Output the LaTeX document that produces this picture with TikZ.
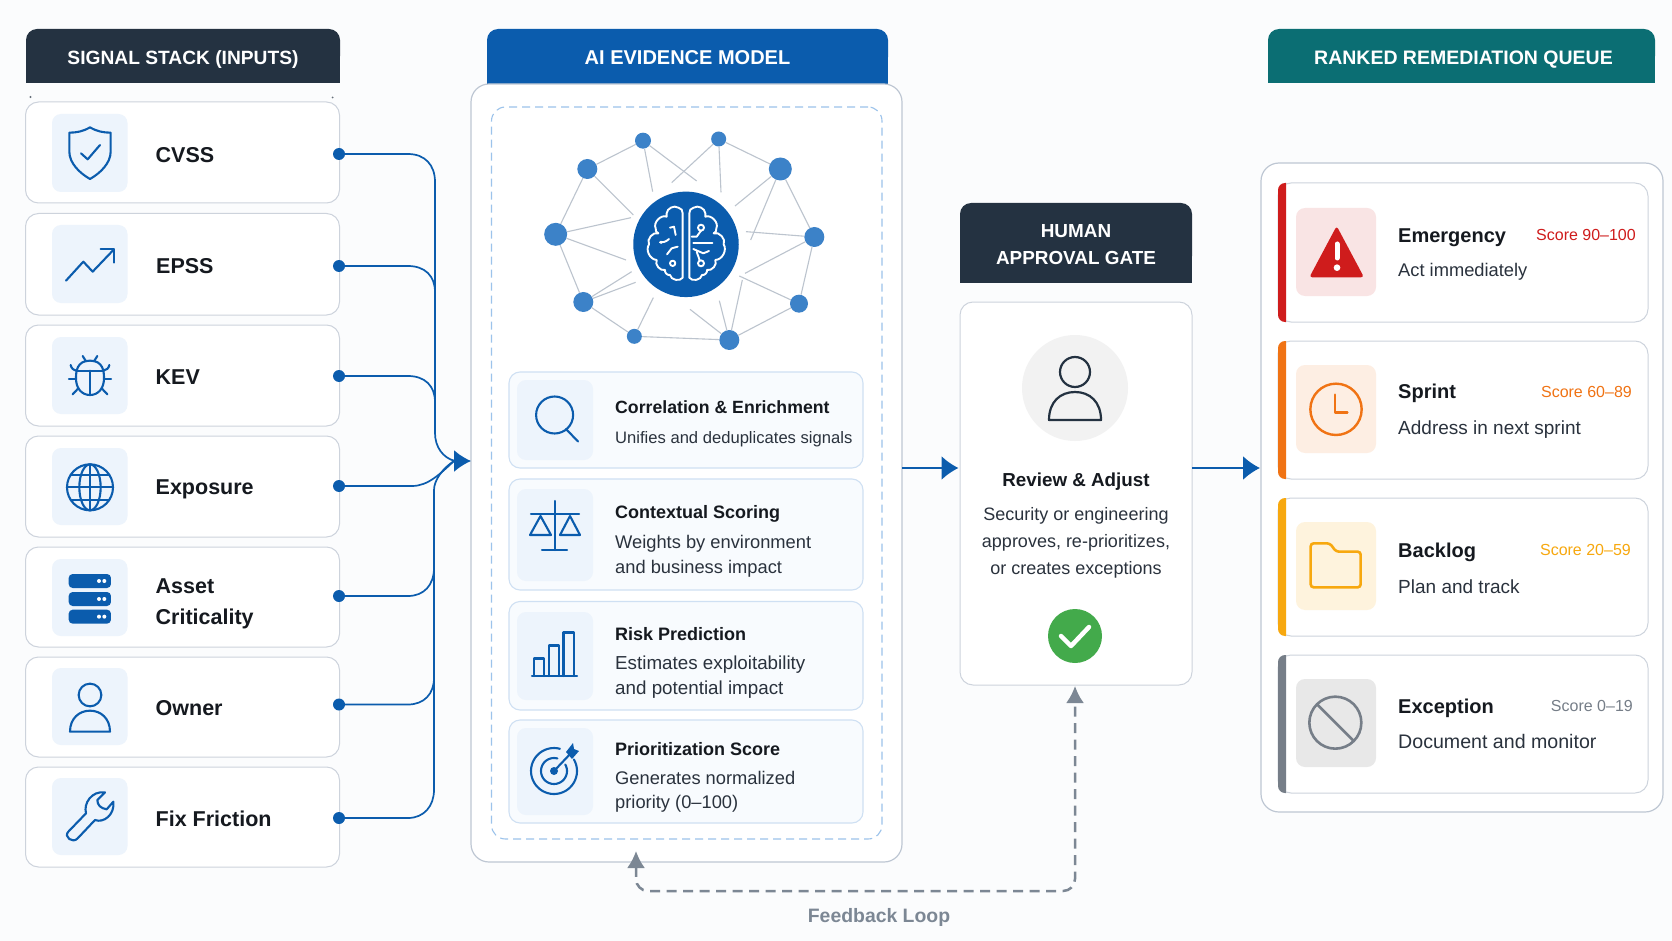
\documentclass[tikz,border=0pt]{standalone}
\usepackage{fontspec}
\setmainfont{Liberation Sans}
\usetikzlibrary{arrows.meta}
\definecolor{bluemain}{HTML}{0B5CAD}
\definecolor{darkhdr}{HTML}{243241}
\definecolor{tealhdr}{HTML}{0B6E73}
\definecolor{cardline}{HTML}{CDD3DC}
\definecolor{paneline}{HTML}{BEC7D3}
\definecolor{tileblue}{HTML}{EDF4FC}
\definecolor{subfill}{HTML}{F8FBFE}
\definecolor{subline}{HTML}{CFE0F3}
\definecolor{dashblue}{HTML}{9CC3EB}
\definecolor{netblue}{HTML}{3C82C8}
\definecolor{netline}{HTML}{BCC4CE}
\definecolor{inkdark}{HTML}{15191F}
\definecolor{inksoft}{HTML}{2A323D}
\definecolor{fbgray}{HTML}{7C8794}
\definecolor{redc}{HTML}{CF1C1C}
\definecolor{orangec}{HTML}{F07314}
\definecolor{amberc}{HTML}{F7A80F}
\definecolor{grayc}{HTML}{767E88}
\definecolor{greenc}{HTML}{43AA4B}
\newcommand{\pxbox}[6]{%
  \pgfmathsetmacro{\bw}{#5-#3}\pgfmathsetmacro{\bh}{#6-#4}%
  \node[#2,anchor=north west,minimum width=\bw pt,minimum height=\bh pt,inner sep=0pt,outer sep=0pt] (#1) at (#3,#4) {};}
\newcommand{\hdrfill}[5]{% colour x1 y1 x2 y2
  \fill[#1,rounded corners=11pt] (#2,#3) rectangle (#4,#5-16);
  \fill[#1] (#2,#3+14) rectangle (#4,#5);}
\tikzset{
  cardbox/.style={draw=cardline,line width=1pt,fill=white,rounded corners=13pt},
  panelbox/.style={draw=paneline,line width=1.2pt,fill=white,rounded corners=18pt},
  tilebox/.style={fill=tileblue,rounded corners=9pt},
  subbox/.style={draw=subline,line width=1.1pt,fill=subfill,rounded corners=11pt},
  hdrtext/.style={text=white,inner sep=0pt,align=center},
  lbl/.style={text=inkdark,inner sep=0pt,font=\fontsize{21.5}{31}\selectfont\bfseries,anchor=west,align=left},
  ttl/.style={text=inkdark,inner sep=0pt,font=\fontsize{18}{24}\selectfont\bfseries,anchor=west},
  sub/.style={text=inksoft,inner sep=0pt,font=\fontsize{18.3}{25}\selectfont,anchor=west},
  qttl/.style={text=inkdark,inner sep=0pt,font=\fontsize{20}{24}\selectfont\bfseries,anchor=west},
  qsub/.style={text=inksoft,inner sep=0pt,font=\fontsize{19}{24}\selectfont,anchor=west},
  qscore/.style={inner sep=0pt,font=\fontsize{16}{20}\selectfont,anchor=east},
  dotn/.style={circle,fill=bluemain,minimum size=12pt,inner sep=0pt},
  flow/.style={draw=bluemain,line width=1.7pt},
  flowtip/.style={-{Latex[length=17pt,width=22pt]}},
  icon/.style={draw=bluemain,line width=2.1pt,line cap=round,line join=round},
  netn/.style={circle,fill=netblue,inner sep=0pt},
  netedge/.style={draw=netline,line width=1.1pt},
  zf/.style 2 args={xshift=#1pt,yshift=-#2pt,x=0.33333pt,y=-0.33333pt},
}
\begin{document}
\begin{tikzpicture}[x=1pt,y=-1pt]
\useasboundingbox (0,0) rectangle (1672,941);
\fill[fill={rgb,255:red,251;green,252;blue,253}] (0,0) rectangle (1672,941);

% ---------- left column
\hdrfill{darkhdr}{26}{29}{340}{83}
\node[hdrtext,anchor=base,font=\fontsize{19.2}{25}\selectfont\bfseries] (hsig) at (183,64.5) {SIGNAL STACK (INPUTS)};
\fill[darkhdr!70] (30.5,97) circle[radius=1.1];
\fill[darkhdr!70] (332.5,97.5) circle[radius=1];
\pxbox{c1}{cardbox}{25.5}{102}{339.5}{203}
\pxbox{c2}{cardbox}{25.5}{213.5}{339.5}{315}
\pxbox{c3}{cardbox}{25.5}{325}{339.5}{426}
\pxbox{c4}{cardbox}{25.5}{436}{339.5}{537}
\pxbox{c5}{cardbox}{25.5}{547}{339.5}{647}
\pxbox{c6}{cardbox}{25.5}{657}{339.5}{757}
\pxbox{c7}{cardbox}{25.5}{767}{339.5}{867}
\pxbox{t1}{tilebox}{52}{114}{127.5}{192}
\pxbox{t2}{tilebox}{52}{225}{127.5}{303}
\pxbox{t3}{tilebox}{52}{337}{127.5}{414}
\pxbox{t4}{tilebox}{52}{448}{127.5}{525}
\pxbox{t5}{tilebox}{52}{559}{127.5}{636}
\pxbox{t6}{tilebox}{52}{668}{127.5}{745}
\pxbox{t7}{tilebox}{52}{778}{127.5}{855}
\node[lbl] (l1) at (155.5,155) {CVSS};
\node[lbl] (l2) at (156,266.5) {EPSS};
\node[lbl] (l3) at (155.5,377.5) {KEV};
\node[lbl] (l4) at (155.5,489.5) {Exposure};
\node[lbl] (l5) at (155.5,604) {Asset\\Criticality};
\node[lbl] (l6) at (155.5,708) {Owner};
\node[lbl] (l7) at (155.5,819) {Fix Friction};

% left icons (zoom coordinates)
\begin{scope}[zf={0}{0},icon]
\draw (270,382) .. controls (250,394) and (230,398) .. (208,398) -- (208,455) .. controls (208,490) and (240,520) .. (270,537) .. controls (300,520) and (332,490) .. (332,455) -- (332,398) .. controls (310,398) and (290,394) .. (270,382) -- cycle;
\draw (243,460) -- (263,478) -- (300,435);
\draw (198,842) -- (250,785) -- (278,815) -- (342,748);
\draw (302,748) -- (342,748) -- (342,788);
% bug
\draw (270,1082) .. controls (310,1082) and (312,1115) .. (312,1135) .. controls (312,1165) and (295,1185) .. (270,1185) .. controls (245,1185) and (228,1165) .. (228,1135) .. controls (228,1115) and (230,1082) .. (270,1082) -- cycle;
\draw (270,1112) -- (270,1185);
\draw (229,1112) -- (311,1112);
\draw (248,1068) -- (258,1084); \draw (292,1068) -- (282,1084);
\draw (212,1095) .. controls (214,1105) and (220,1110) .. (230,1112);
\draw (328,1095) .. controls (326,1105) and (320,1110) .. (310,1112);
\draw (207,1138) -- (228,1138); \draw (333,1138) -- (312,1138);
\draw (218,1183) -- (235,1165); \draw (322,1183) -- (305,1165);
\end{scope}
\begin{scope}[zf={0}{470},icon]
% globe
\draw (270,52) circle[radius=69];
\draw (270,52) ellipse[x radius=32,y radius=69];
\draw (270,-17) -- (270,121);
\draw (201,52) -- (339,52);
\draw (212,15) -- (328,15);
\draw (212,89) -- (328,89);
% servers
\foreach \yy in {312,366,419}{
  \fill[bluemain,rounded corners=4pt] (206,\yy) rectangle (333,\yy+42);
  \fill[white] (297,\yy+21) circle[radius=6];
  \fill[white] (313,\yy+21) circle[radius=6];
}
% person
\draw (270,675) circle[radius=34];
\draw (210,785) .. controls (210,745) and (238,722) .. (270,722) .. controls (302,722) and (330,745) .. (330,785) -- cycle;
% wrench
\draw (258,1030) .. controls (250,1000) and (275,962) .. (315,967) -- (292,990) .. controls (292,1005) and (302,1015) .. (320,1018) -- (340,995) .. controls (345,1035) and (310,1060) .. (285,1050) -- (233,1105) .. controls (218,1122) and (190,1100) .. (205,1085) -- cycle;
\end{scope}

% ---------- centre panel
\hdrfill{bluemain}{487}{29}{888}{84}
\node[hdrtext,anchor=base,font=\fontsize{20}{25}\selectfont\bfseries] (hai) at (687.5,64.5) {AI EVIDENCE MODEL};
\pxbox{model}{panelbox}{471}{84}{902}{862}
\pxbox{dash}{draw=dashblue,line width=1.1pt,dashed,dash pattern=on 8pt off 5pt,rounded corners=14pt,fill=white}{491.5}{107}{882}{839}

\begin{scope}[zf={460}{20}]
\node[circle,fill=bluemain,minimum size=105.5pt,inner sep=0pt] (brain) at (678,673) {};
\node[netn,minimum size=16pt] (n1) at (549,362) {};
\node[netn,minimum size=15pt] (n2) at (776,357) {};
\node[netn,minimum size=20pt] (n3) at (382,447) {};
\node[netn,minimum size=23pt] (n4) at (961,447) {};
\node[netn,minimum size=23pt] (n5) at (287,643) {};
\node[netn,minimum size=20pt] (n6) at (1063,651) {};
\node[netn,minimum size=20pt] (n7) at (370,846) {};
\node[netn,minimum size=18pt] (n8) at (1017,851) {};
\node[netn,minimum size=15pt] (n9) at (523,949) {};
\node[netn,minimum size=20pt] (n10) at (808,960) {};
\foreach \a/\b in {n1/n3,n3/n5,n5/n7,n7/n9,n9/n10,n10/n8,n8/n6,n6/n4,n4/n2}
  \draw[netedge] (\a) -- (\b);
\foreach \a/\p in {n1/{(578,515)},n1/{(710,483)},n2/{(635,488)},n2/{(783,517)},n3/{(520,585)},n4/{(825,558)},n4/{(872,660)},n5/{(513,593)},n5/{(498,720)},n6/{(858,635)},n6/{(855,760)},n7/{(515,755)},n7/{(527,787)},n8/{(838,768)},n10/{(847,780)},n10/{(778,842)},n10/{(690,868)},n9/{(580,833)}}
  \draw[netedge] (\a) -- \p;
\end{scope}
% brain (zoom of the circle)
\begin{scope}[zf={625}{185},draw=white,line width=1.9pt,line cap=round,line join=round]
\draw (173,85) to[bend right=45] (160,68) to[bend right=60] (125,85) to[bend right=35] (125,95)
  to[bend right=70] (92,130) to[bend right=40] (100,145) to[bend right=70] (72,178)
  to[bend right=60] (95,225) to[bend right=65] (120,255) to[bend right=55] (135,270)
  to[bend right=70] (173,278) -- cycle;
\draw (193,85) to[bend left=45] (206,68) to[bend left=60] (241,85) to[bend left=35] (241,95)
  to[bend left=70] (274,130) to[bend left=40] (266,145) to[bend left=70] (296,178)
  to[bend left=60] (271,225) to[bend left=65] (246,255) to[bend left=55] (231,270)
  to[bend left=70] (193,278) -- cycle;
\draw (135,128) -- (147,125) -- (152,150);
\draw (105,172) .. controls (112,172) and (122,172) .. (132,162);
\fill[white] (108,172) circle[radius=5];
\draw (158,185) -- (140,190) -- (126,208);
\draw (143,235) circle[radius=8];
\draw (228,128) circle[radius=9];
\draw (228,137) -- (215,155) -- (200,155);
\draw (205,175) -- (262,175);
\draw (205,192) -- (235,205) -- (252,198);
\draw (215,200) -- (224,226);
\draw (228,235) circle[radius=9];
\end{scope}

% sub cards
\pxbox{s1}{subbox}{509}{372}{863}{468}
\pxbox{s2}{subbox}{509}{479}{863}{590}
\pxbox{s3}{subbox}{509}{601.5}{863}{710}
\pxbox{s4}{subbox}{509}{720}{863}{823}
\pxbox{st1}{tilebox}{517}{380}{593}{460}
\pxbox{st2}{tilebox}{517}{489}{593}{581}
\pxbox{st3}{tilebox}{517}{612}{593}{700}
\pxbox{st4}{tilebox}{517}{728}{593}{815}
\node[ttl,font=\fontsize{17.7}{24}\selectfont\bfseries] at (615,407) {Correlation \& Enrichment};
\node[sub,font=\fontsize{16.6}{20}\selectfont] at (615,439) {Unifies and deduplicates signals};
\node[ttl] at (615,514) {Contextual Scoring};
\node[sub] at (615,544) {Weights by environment};
\node[sub] at (615,569) {and business impact};
\node[ttl] at (615,634) {Risk Prediction};
\node[sub,font=\fontsize{18.8}{25}\selectfont] at (615,665) {Estimates exploitability};
\node[sub,font=\fontsize{18.8}{25}\selectfont] at (615,690) {and potential impact};
\node[ttl] at (615,749.5) {Prioritization Score};
\node[sub] at (615,777.5) {Generates normalized};
\node[sub] at (615,803.5) {priority (0–100)};

% sub icons (pixels)
\begin{scope}[icon]
\draw (554.6,415) circle[radius=18.5];
\draw (566,429) -- (578,441.5);
% scales
\draw (554.6,501) -- (554.6,550);
\draw (542,550) -- (567,550);
\draw (531,514) -- (579,514);
\draw (540.5,516) -- (530,535) -- (551,535) -- cycle;
\draw (570,516) -- (560,535) -- (580,535) -- cycle;
% bars
\draw (534,676) -- (534,658.5) -- (544,658.5) -- (544,676);
\draw (549,676) -- (549,645.5) -- (559,645.5) -- (559,676);
\draw (563.5,676) -- (563.5,632.5) -- (574,632.5) -- (574,676);
\draw (532,676) -- (577,676);
% target
\draw plot[domain=-30:285,samples=50] ({554+23*cos(\x)},{771+23*sin(\x)});
\draw plot[domain=-30:285,samples=40] ({554+13*cos(\x)},{771+13*sin(\x)});
\fill[bluemain] (554,771) circle[radius=4];
\draw (554,771) -- (572,752);
\fill[bluemain] (566,752) -- (573,743) -- (574,749) -- (579,751) -- (572,759) -- cycle;
\end{scope}

% ---------- human gate
\hdrfill{darkhdr}{960}{203}{1192}{283}
\node[hdrtext,font=\fontsize{18.9}{27}\selectfont\bfseries] (hhum) at (1076,244.5) {HUMAN\\APPROVAL GATE};
\pxbox{gate}{cardbox}{960}{302}{1192}{685}
\fill[black!5] (1075,388) circle[radius=53];
\begin{scope}[draw=darkhdr,line width=2.2pt,line join=round]
\draw (1075,372) circle[radius=15];
\draw (1049,420) .. controls (1049,402) and (1060,392) .. (1075,392) .. controls (1090,392) and (1101,402) .. (1101,420) -- cycle;
\end{scope}
\node[text=inkdark,font=\fontsize{18.8}{24}\selectfont\bfseries] at (1076,482) {Review \& Adjust};
\node[text=inksoft,font=\fontsize{18}{27}\selectfont,align=center] at (1076,543) {Security or engineering\\approves, re-prioritizes,\\or creates exceptions};
\fill[greenc] (1075,636) circle[radius=27];
\draw[white,line width=4.5pt,line cap=round,line join=round] (1061,636) -- (1071,646) -- (1089,627);

% ---------- queue
\hdrfill{tealhdr}{1268}{29}{1655}{83}
\node[hdrtext,anchor=base,font=\fontsize{19.5}{25}\selectfont\bfseries] (hque) at (1463.5,64.5) {RANKED REMEDIATION QUEUE};
\pxbox{queue}{panelbox}{1261}{163}{1663}{812}
\foreach \nm/\col/\ya/\yb in {e/redc/183/322,o/orangec/341/479,b/amberc/498/636,x/grayc/655/793}{
  \pxbox{q\nm}{cardbox}{1278}{\ya}{1648}{\yb}
  \begin{scope}
  \clip (1277,\ya-1) rectangle (1286,\yb+1);
  \fill[\col,rounded corners=7pt] (1278,\ya) rectangle (1300,\yb);
  \end{scope}
}
\pxbox{qte}{fill=redc!12,rounded corners=9pt}{1296}{208}{1376}{296}
\pxbox{qto}{fill=orangec!12,rounded corners=9pt}{1296}{365}{1376}{453}
\pxbox{qtb}{fill=amberc!14,rounded corners=9pt}{1296}{522}{1376}{610}
\pxbox{qtx}{fill=black!9,rounded corners=9pt}{1296}{679}{1376}{767}
\begin{scope}[zf={1250}{20}]
\fill[redc,rounded corners=3pt] (260,618) -- (342,772) -- (178,772) -- cycle;
\draw[white,line width=5pt,line cap=round] (261,672) -- (261,714);
\fill[white] (261,743) circle[radius=10];
\draw[orangec,line width=2.4pt] (258,1168) circle[radius=77];
\draw[orangec,line width=2.6pt,line join=round,line cap=round] (255,1124) -- (255,1178) -- (292,1178);
\end{scope}
\begin{scope}[zf={1250}{480}]
\draw[amberc,line width=2.6pt,rounded corners=3pt] (182,322) -- (182,190) -- (240,190) -- (258,215) -- (332,215) -- (332,322) -- cycle;
\draw[grayc,line width=2.6pt] (256,728) circle[radius=78];
\draw[grayc,line width=2.6pt] (201,673) -- (311,783);
\end{scope}
\node[qttl] at (1398,238) {Emergency};
\node[qsub,font=\fontsize{18.3}{24}\selectfont] at (1398,272) {Act immediately};
\node[qscore,text=redc] at (1636,235) {Score 90–100};
\node[qttl] at (1398,393.5) {Sprint};
\node[qsub] at (1398,430) {Address in next sprint};
\node[qscore,text=orangec] at (1632,391.5) {Score 60–89};
\node[qttl] at (1398,552) {Backlog};
\node[qsub] at (1398,587) {Plan and track};
\node[qscore,text=amberc] at (1631,550) {Score 20–59};
\node[qttl] at (1398,708) {Exception};
\node[qsub,font=\fontsize{19.6}{24}\selectfont] at (1398,741) {Document and monitor};
\node[qscore,text=grayc] at (1633,706) {Score 0–19};

% ---------- connectors
\node[dotn] (d1) at (339,154) {};
\node[dotn] (d2) at (339,266) {};
\node[dotn] (d3) at (339,376) {};
\node[dotn] (d4) at (339,486) {};
\node[dotn] (d5) at (339,596) {};
\node[dotn] (d6) at (339,704.5) {};
\node[dotn] (d7) at (339,818) {};
\coordinate (modelin) at (471,461);
\coordinate (modeljoin) at (454,461);
\draw[flow] (d2.center) -- (408,266) .. controls (425,266) and (435,276) .. (435,292);
\draw[flow] (d3.center) -- (408,376) .. controls (425,376) and (435,386) .. (435,402);
\draw[flow] (d4.center) -- (412,486) .. controls (428,486) and (440,474) .. (modeljoin);
\draw[flow] (d5.center) -- (408,596) .. controls (424,596) and (434,585) .. (434,568);
\draw[flow] (d6.center) -- (408,704.5) .. controls (424,704.5) and (434,694) .. (434,678);
\draw[flow] (d7.center) -- (408,818) .. controls (424,818) and (434,806) .. (434,790) -- (434,490) .. controls (434,480) and (443,468) .. (modeljoin);
\draw[flow,flowtip] (d1.center) -- (408,154) .. controls (425,154) and (435,165) .. (435,182) -- (435,433) .. controls (435,447) and (443,458) .. (455,461) -- (modelin);
\coordinate (gatein) at (958.5,468);
\coordinate (queuein) at (1260,468);
\draw[flow,-{Latex[length=17pt,width=24pt]}] (model.east |- gatein) -- (gatein);
\draw[flow,-{Latex[length=17pt,width=24pt]}] (gate.east |- queuein) -- (queuein);
\node[text=fbgray,font=\fontsize{19.4}{24}\selectfont\bfseries] (fbl) at (879,917) {Feedback Loop};
\coordinate (fbb) at (636,851);
\coordinate (fbg) at (1075,686);
\draw[draw=fbgray,line width=2.5pt,dash pattern=on 10pt off 6.5pt,rounded corners=12pt,{Latex[length=17pt,width=18pt]}-{Latex[length=17pt,width=18pt]}] (fbb) -- (636,891) -- (1075,891) -- (fbg);
\end{tikzpicture}
\end{document}
